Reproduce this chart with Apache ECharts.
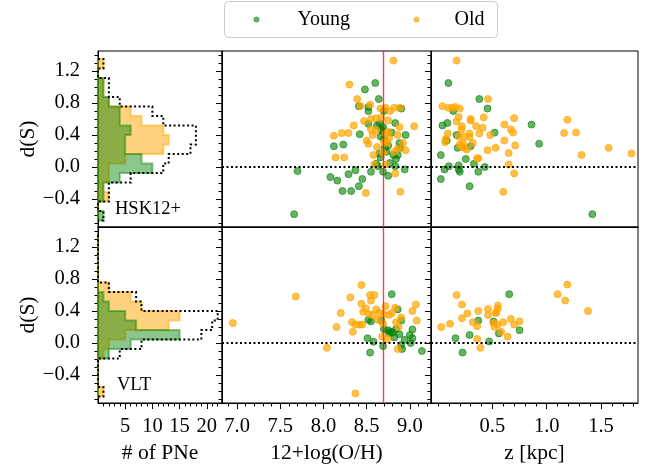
<!DOCTYPE html>
<html lang="en">
<head>
<meta charset="UTF-8">
<title>d(S) of PNe</title>
<script src="https://cdn.jsdelivr.net/npm/echarts@6/dist/echarts.min.js"></script>
<style>
  html, body { margin: 0; padding: 0; background: #fff; }
  #main { width: 656px; height: 469px; }
</style>
</head>
<body>
<div id="main"></div>
<script>
// histogram bins of d(S), from top to bottom
var binEdges = [1.35, 1.231, 1.112, 0.994, 0.875, 0.756, 0.637, 0.518, 0.400, 0.281, 0.162, 0.043, -0.076, -0.194, -0.313, -0.432, -0.551, -0.670];

// counts per bin (# of PNe)
var hskOldHist   = [1, 0, 1, 1, 2, 6, 8, 12, 13, 12, 5, 2, 2, 1, 2, 0, 0];
var hskYoungHist = [0, 0, 1, 1, 2, 4, 4, 6, 5, 5, 8, 10, 4, 1, 1, 0, 1];
var hskAllHist   = [1, 0, 2, 2, 4, 10, 12, 18, 18, 17, 13, 12, 6, 2, 2, 0, 1];

var vltOldHist   = [0, 0, 0, 0, 0, 2, 6, 8, 15, 13, 5, 2, 1, 0, 0, 0, 1];
var vltYoungHist = [0, 0, 0, 0, 0, 0, 1, 2, 5, 7, 15, 6, 2, 0, 0, 0, 0];
var vltAllHist   = [0, 0, 0, 0, 0, 2, 7, 8, 22, 21, 19, 8, 4, 0, 0, 0, 1];

// [12+log(O/H), d(S)]
var hskYoungOH = [[7.70,-0.05],[7.66,-0.59],[8.60,1.05],[8.48,0.97],[8.64,0.85],[8.41,0.76],[8.52,0.75],[8.52,0.70],
  [8.70,0.70],[8.90,0.73],[8.52,0.54],[8.62,0.52],[8.65,0.55],[8.69,0.50],[8.83,0.55],[8.68,0.45],[8.42,0.41],
  [8.79,0.43],[8.95,0.40],[8.66,0.38],[8.12,0.26],[8.23,0.28],[8.88,0.30],[8.75,0.27],[8.71,0.24],[8.89,0.24],
  [8.65,0.17],[8.81,0.15],[8.86,0.15],[8.84,0.10],[8.77,0.05],[8.83,0.01],[8.63,0.01],[8.61,0.04],[8.94,-0.03],
  [8.69,-0.06],[8.55,-0.06],[8.37,-0.04],[8.29,-0.09],[8.08,-0.125],[8.16,-0.17],[8.45,-0.15],[8.75,-0.11],
  [8.41,-0.24],[8.22,-0.30],[8.32,-0.30],[8.67,0.47],[8.70,0.35],[8.73,0.19],[8.66,0.12]];
var hskOldOH = [[8.81,1.33],[8.30,1.03],[8.39,0.85],[8.54,0.78],[8.43,0.76],[8.66,0.73],[8.72,0.74],[8.77,0.70],
  [8.82,0.74],[8.88,0.74],[8.35,0.52],[8.47,0.575],[8.55,0.60],[8.61,0.61],[8.67,0.62],[8.75,0.58],[8.88,0.50],
  [9.05,0.51],[8.55,0.47],[8.61,0.46],[8.75,0.44],[8.57,0.40],[8.72,0.42],[8.86,0.40],[8.21,0.425],[8.29,0.425],
  [8.12,0.39],[8.50,0.33],[8.52,0.29],[8.62,0.25],[8.70,0.31],[8.74,0.30],[8.76,0.36],[8.92,0.30],[8.86,0.23],
  [8.95,0.21],[8.69,0.175],[8.58,0.15],[8.14,0.12],[8.24,0.12],[8.82,0.19],[8.59,0.03],[8.72,0.03],[8.83,-0.08],
  [8.89,-0.31],[8.49,-0.325]];
var vltYoungOH = [[8.79,0.61],[8.86,0.42],[8.52,0.29],[8.55,0.27],[8.67,0.28],[8.90,0.28],[8.70,0.175],[8.75,0.16],
  [8.78,0.14],[8.80,0.13],[8.76,0.125],[8.84,0.175],[8.88,0.11],[8.82,0.07],[9.03,0.17],[9.00,0.10],[9.03,0.06],
  [8.51,0.06],[8.58,0.015],[8.94,0.04],[8.90,-0.025],[8.91,-0.075],[9.01,0.0],[8.69,-0.04],[8.54,-0.12],[9.14,-0.10]];
var vltOldOH = [[6.95,0.25],[7.68,0.58],[8.44,0.725],[8.31,0.57],[8.54,0.60],[8.59,0.60],[8.55,0.53],[8.44,0.49],
  [8.49,0.43],[8.46,0.39],[8.20,0.375],[8.53,0.36],[8.57,0.35],[8.61,0.42],[8.65,0.38],[8.72,0.46],[8.70,0.36],
  [8.76,0.35],[8.79,0.375],[8.83,0.44],[8.90,0.32],[9.07,0.48],[9.03,0.40],[9.08,0.28],[8.33,0.26],[8.37,0.23],
  [8.42,0.23],[8.45,0.23],[8.15,0.20],[8.34,0.14],[8.63,0.29],[8.69,0.24],[8.84,0.26],[8.87,0.20],[8.68,0.08],
  [8.74,0.05],[8.04,-0.06],[8.86,-0.075],[8.37,-0.63]];

// [z (kpc), d(S)]
var hskYoungZ = [[0.095,1.05],[0.38,0.85],[0.455,0.73],[0.14,0.70],[0.04,0.52],[0.086,0.55],[0.86,0.53],[0.17,0.40],
  [0.52,0.43],[0.08,0.33],[0.93,0.29],[0.18,0.24],[0.30,0.26],[0.025,0.15],[0.255,0.10],[0.10,0.01],[0.19,0.02],
  [0.33,0.04],[0.43,0.0],[0.06,-0.03],[0.19,-0.03],[0.20,-0.06],[0.37,-0.06],[0.025,-0.15],[0.29,-0.24],[1.42,-0.59]];
var hskOldZ = [[0.17,1.33],[0.04,0.76],[0.095,0.74],[0.13,0.74],[0.16,0.75],[0.20,0.73],[0.46,0.85],[0.19,0.625],
  [0.17,0.57],[0.30,0.60],[0.30,0.58],[0.42,0.62],[0.70,0.61],[1.19,0.59],[0.22,0.51],[0.215,0.47],[0.35,0.51],
  [0.41,0.49],[0.61,0.53],[0.67,0.47],[0.69,0.43],[1.16,0.425],[1.27,0.43],[0.09,0.42],[0.19,0.38],[0.24,0.38],
  [0.29,0.42],[0.29,0.375],[0.38,0.42],[0.48,0.40],[0.07,0.35],[0.065,0.31],[0.20,0.28],[0.23,0.30],[0.32,0.30],
  [0.22,0.25],[0.24,0.24],[0.265,0.22],[0.61,0.33],[0.53,0.24],[0.71,0.27],[0.455,0.21],[0.65,0.175],[0.36,0.11],
  [0.37,0.11],[1.32,0.15],[1.57,0.24],[1.78,0.17],[0.65,0.03],[0.70,-0.08],[0.60,-0.31]];
var vltYoungZ = [[0.655,0.61],[0.37,0.28],[0.51,0.27],[0.16,0.06],[0.29,0.10],[0.47,0.02],[0.56,0.12],[0.75,0.16],[0.225,-0.12]];
var vltOldZ = [[0.17,0.60],[0.22,0.48],[0.03,0.20],[0.11,0.24],[0.22,0.31],[0.27,0.37],[0.32,0.26],[0.36,0.21],
  [0.37,0.40],[0.36,0.05],[0.39,-0.06],[0.46,0.425],[0.46,0.35],[0.53,0.375],[0.535,0.38],[0.55,0.47],[0.55,0.43],
  [0.51,0.25],[0.52,0.20],[0.55,0.23],[0.58,0.14],[0.60,0.26],[0.64,0.08],[0.67,0.30],[0.70,0.23],[0.75,0.27],
  [1.10,0.61],[1.19,0.73],[1.17,0.53],[1.38,0.40]];

// tick marks
var dsTicks = [-0.4, 0.0, 0.4, 0.8, 1.2];
var pneTicks = [5, 10, 15, 20];
var ohTicks = [7.0, 7.5, 8.0, 8.5, 9.0];
var zTicks = [0.5, 1.0, 1.5];
var solarOH = 8.69;

function steps(a, b, st, skip) {
  var out = [];
  for (var v = a; v <= b + 1e-9; v += st) {
    var r = Math.round(v * 100) / 100;
    if (skip.indexOf(r) < 0) out.push(r);
  }
  return out;
}
var dsMinor = steps(-0.7, 1.4, 0.1, dsTicks);
var pneMinor = steps(1, 22, 1, pneTicks);
var ohMinor = steps(6.9, 9.2, 0.1, ohTicks);
var zMinor = steps(0.0, 1.8, 0.1, zTicks);

var FONT = 'Liberation Serif';
var TICK_FS = 20.5;   // tick labels
var NAME_FS = 21.5;   // axis titles
var GREEN = 'rgb(0,128,0)';
var ORANGE = 'rgb(255,165,0)';

var cols = [
  { left: 98, width: 124, min: 0, max: 22.8, major: pneTicks, minor: pneMinor, name: '# of PNe', fmt: function (v) { return String(v); } },
  { left: 222, width: 209, min: 6.825, max: 9.245, major: ohTicks, minor: ohMinor, name: '12+log(O/H)', fmt: function (v) { return v.toFixed(1); } },
  { left: 431, width: 207, min: -0.065, max: 1.84, major: zTicks, minor: zMinor, name: 'z [kpc]', fmt: function (v) { return v.toFixed(1); } }
];
var rows = [{ top: 51, height: 176 }, { top: 227, height: 176 }];

var grids = [], xAxes = [], yAxes = [];
rows.forEach(function (r, ri) {
  cols.forEach(function (c, ci) {
    var g = grids.length;
    grids.push({ left: c.left, top: r.top, width: c.width, height: r.height, show: true,
      borderColor: '#000', borderWidth: 1, backgroundColor: 'transparent' });
    var showX = ri === 1;
    xAxes.push({
      gridIndex: g, type: 'value', position: 'bottom', min: c.min, max: c.max,
      axisLine: { show: true, onZero: false, lineStyle: { color: '#000', width: 1 } },
      axisTick: { show: showX, customValues: c.major, length: 6, lineStyle: { color: '#000', width: 1 } },
      axisLabel: { show: showX, customValues: c.major, formatter: c.fmt, margin: 13,
        fontFamily: FONT, fontSize: TICK_FS, color: '#000' },
      splitLine: { show: false },
      name: showX ? c.name : '', nameLocation: 'middle', nameGap: 39,
      nameTextStyle: { fontFamily: FONT, fontSize: NAME_FS, color: '#000' }
    });
    xAxes.push({
      gridIndex: g, type: 'value', position: 'bottom', min: c.min, max: c.max,
      axisLine: { show: false, onZero: false },
      axisTick: { show: showX, customValues: c.minor, length: 3.5, lineStyle: { color: '#000', width: 1 } },
      axisLabel: { show: false }, splitLine: { show: false }
    });
    var showY = ci === 0;
    yAxes.push({
      gridIndex: g, type: 'value', position: 'left', min: -0.75, max: 1.45,
      axisLine: { show: true, onZero: false, lineStyle: { color: '#000', width: 1 } },
      axisTick: { show: true, customValues: dsTicks, length: 6, lineStyle: { color: '#000', width: 1 } },
      axisLabel: { show: showY, customValues: dsTicks, margin: 18,
        formatter: function (v) { return v.toFixed(1).replace('-', '\u2212'); },
        fontFamily: FONT, fontSize: TICK_FS, color: '#000' },
      splitLine: { show: false },
      name: showY ? 'd(S)' : '', nameLocation: 'middle', nameGap: 58,
      nameTextStyle: { fontFamily: FONT, fontSize: NAME_FS, color: '#000' }
    });
    yAxes.push({
      gridIndex: g, type: 'value', position: 'left', min: -0.75, max: 1.45,
      axisLine: { show: false, onZero: false },
      axisTick: { show: true, customValues: dsMinor, length: 3.5, lineStyle: { color: '#000', width: 1 } },
      axisLabel: { show: false }, splitLine: { show: false }
    });
  });
});

function histSeries(counts, g, fill, stroke, dotted, z) {
  return {
    type: 'custom', xAxisIndex: 2 * g, yAxisIndex: 2 * g, data: [[0, 0]], silent: true, z: z,
    renderItem: function (params, api) {
      var pts = [api.coord([0, binEdges[0]])];
      for (var k = 0; k < counts.length; k++) {
        pts.push(api.coord([counts[k], binEdges[k]]));
        pts.push(api.coord([counts[k], binEdges[k + 1]]));
      }
      pts.push(api.coord([0, binEdges[binEdges.length - 1]]));
      if (dotted) {
        return { type: 'polyline', shape: { points: pts },
          style: { fill: null, stroke: '#000', lineWidth: 2, lineDash: [2, 2.5] } };
      }
      return { type: 'polygon', shape: { points: pts },
        style: { fill: fill, stroke: stroke, lineWidth: 2 } };
    }
  };
}

function scatter(name, data, g, color, opacity) {
  return {
    type: 'scatter', name: name, xAxisIndex: 2 * g, yAxisIndex: 2 * g, data: data,
    symbolSize: 7, z: 3,
    itemStyle: { color: color, opacity: opacity, borderColor: color, borderWidth: 1 },
    emphasis: { disabled: true }
  };
}

function refLines(g, withSolar) {
  var d = [{ yAxis: 0, lineStyle: { color: '#000', width: 2, type: [2, 2.5] } }];
  if (withSolar) d.push({ xAxis: solarOH, lineStyle: { color: 'rgba(255,0,0,0.75)', width: 1.4, type: 'solid' } });
  return {
    type: 'line', xAxisIndex: 2 * g, yAxisIndex: 2 * g, data: [], z: 2,
    markLine: { silent: true, symbol: ['none', 'none'], label: { show: false }, data: d, animation: false }
  };
}

var series = [
  histSeries(hskOldHist, 0, 'rgba(255,165,0,0.5)', 'rgba(255,165,0,0.5)', false, 1),
  histSeries(hskYoungHist, 0, 'rgba(0,128,0,0.45)', 'rgba(0,128,0,0.45)', false, 1),
  histSeries(hskAllHist, 0, null, null, true, 2),
  histSeries(vltOldHist, 3, 'rgba(255,165,0,0.5)', 'rgba(255,165,0,0.5)', false, 1),
  histSeries(vltYoungHist, 3, 'rgba(0,128,0,0.45)', 'rgba(0,128,0,0.45)', false, 1),
  histSeries(vltAllHist, 3, null, null, true, 2),
  refLines(1, true), refLines(4, true), refLines(2, false), refLines(5, false),
  scatter('Young', hskYoungOH, 1, GREEN, 0.6),
  scatter('Old', hskOldOH, 1, ORANGE, 0.7),
  scatter('Young', vltYoungOH, 4, GREEN, 0.6),
  scatter('Old', vltOldOH, 4, ORANGE, 0.7),
  scatter('Young', hskYoungZ, 2, GREEN, 0.6),
  scatter('Old', hskOldZ, 2, ORANGE, 0.7),
  scatter('Young', vltYoungZ, 5, GREEN, 0.6),
  scatter('Old', vltOldZ, 5, ORANGE, 0.7)
];

// legend box drawn by hand to match the placement of the original
var legendFont = '20px "' + FONT + '"';
var legendGraphic = {
  type: 'group', left: 224, top: 1,
  children: [
    { type: 'rect', shape: { x: 0, y: 0, width: 273, height: 36, r: 4 },
      style: { fill: '#fff', stroke: '#cccccc', lineWidth: 1 } },
    { type: 'circle', shape: { cx: 32, cy: 18, r: 2.6 },
      style: { fill: 'rgba(0,128,0,0.6)', stroke: 'rgba(0,128,0,0.6)', lineWidth: 0.8 } },
    { type: 'text', x: 73, y: 18, style: { text: 'Young', font: legendFont, fill: '#000', verticalAlign: 'middle' } },
    { type: 'circle', shape: { cx: 192, cy: 18, r: 2.6 },
      style: { fill: 'rgba(255,165,0,0.7)', stroke: 'rgba(255,165,0,0.7)', lineWidth: 0.8 } },
    { type: 'text', x: 230, y: 18, style: { text: 'Old', font: legendFont, fill: '#000', verticalAlign: 'middle' } }
  ]
};

var chart = echarts.init(document.getElementById('main'), null, { renderer: 'canvas' });
chart.setOption({
  animation: false,
  backgroundColor: '#fff',
  grid: grids, xAxis: xAxes, yAxis: yAxes,
  graphic: [
    legendGraphic,
    { type: 'text', left: 115, top: 200, style: { text: 'HSK12+', font: '18.5px "' + FONT + '"', fill: '#000' } },
    { type: 'text', left: 117, top: 376, style: { text: 'VLT', font: '18.5px "' + FONT + '"', fill: '#000' } }
  ],
  series: series
});
</script>
</body>
</html>
